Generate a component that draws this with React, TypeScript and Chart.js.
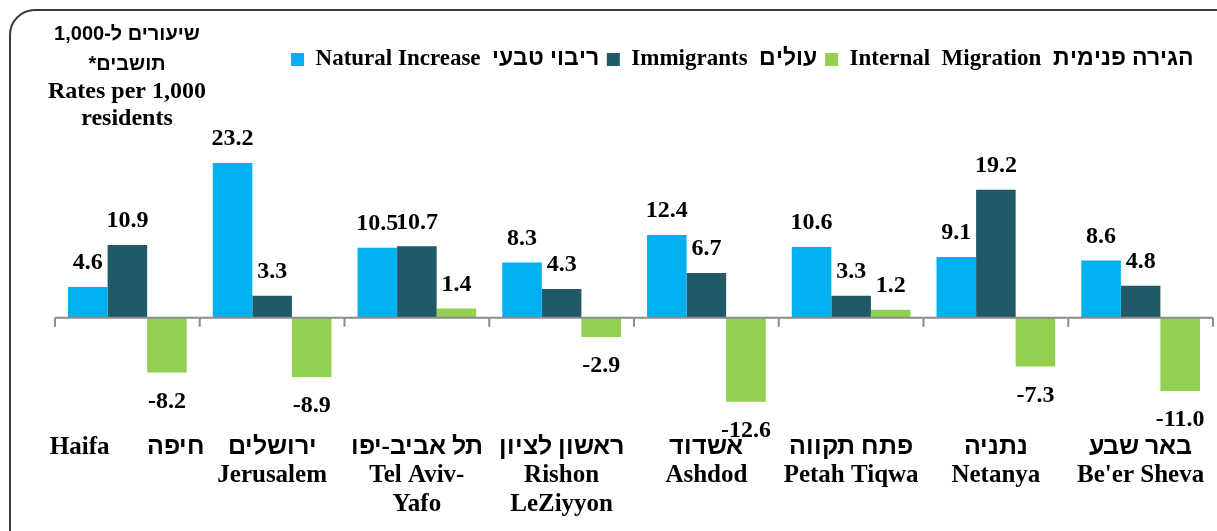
import React, { useEffect, useRef } from "react";
import { Chart, registerables } from "chart.js";

Chart.register(...registerables);

// ---- data ----
const categories: string[][] = [
  ["Haifa      חיפה"],
  ["ירושלים", "Jerusalem"],
  ["תל אביב-יפו", "Tel Aviv-", "Yafo"],
  ["ראשון לציון", "Rishon", "LeZiyyon"],
  ["אשדוד", "Ashdod"],
  ["פתח תקווה", "Petah Tiqwa"],
  ["נתניה", "Netanya"],
  ["באר שבע", "Be'er Sheva"],
];
const seriesNames = [
  "Natural Increase  ריבוי טבעי",
  "Immigrants  עולים",
  "Internal  Migration  הגירה פנימית  ",
];
const naturalIncrease = [4.6, 23.2, 10.5, 8.3, 12.4, 10.6, 9.1, 8.6];
const immigrants = [10.9, 3.3, 10.7, 4.3, 6.7, 3.3, 19.2, 4.8];
const internalMigration = [-8.2, -8.9, 1.4, -2.9, -12.6, 1.2, -7.3, -11.0];
const seriesColors = ["#00B0F0", "#215968", "#92D050"];
const yTitleHebrew = ["שיעורים ל-1,000", "תושבים*"];
const yTitleEnglish = ["Rates per 1,000", "residents"];

const FAMILY = "'HebSans', 'Liberation Serif', 'Times New Roman', serif";

const fontCss = `
@font-face { font-family: 'HebSans'; src: local('Liberation Sans Bold'), local('LiberationSans-Bold'); font-weight: 700; unicode-range: U+0590-05FF, U+FB1D-FB4F; }
@font-face { font-family: 'HebSans'; src: local('Liberation Sans'), local('LiberationSans-Regular'); font-weight: 400; unicode-range: U+0590-05FF, U+FB1D-FB4F; }
`;

const zeroLinePlugin = {
  id: "zeroLine",
  afterDatasetsDraw(chart: any) {
    const { ctx, chartArea, scales } = chart;
    const x = scales.x;
    const y = scales.y;
    const y0 = y.getPixelForValue(0);
    const step = x.getPixelForValue(1) - x.getPixelForValue(0);
    const first = x.getPixelForValue(0) - step / 2;
    ctx.save();
    ctx.strokeStyle = "#8C8C8C";
    ctx.lineWidth = 2;
    ctx.beginPath();
    ctx.moveTo(chartArea.left, y0);
    ctx.lineTo(chartArea.right, y0);
    for (let i = 0; i <= categories.length; i++) {
      const px = first + i * step;
      ctx.moveTo(px, y0);
      ctx.lineTo(px, y0 + 9);
    }
    ctx.stroke();
    ctx.restore();
  },
};

const dataLabelPlugin = {
  id: "dataLabels",
  afterDatasetsDraw(chart: any) {
    const { ctx } = chart;
    ctx.save();
    ctx.font = `bold 24px ${FAMILY}`;
    ctx.fillStyle = "#000";
    ctx.textAlign = "center";
    ctx.textBaseline = "middle";
    chart.data.datasets.forEach((ds: any, di: number) => {
      const meta = chart.getDatasetMeta(di);
      meta.data.forEach((el: any, j: number) => {
        const v = ds.data[j] as number;
        const txt = v.toFixed(1);
        const ty = v >= 0 ? el.y - 24 : el.y + 29;
        ctx.fillText(txt, el.x, ty);
      });
    });
    ctx.restore();
  },
};

const yTitlePlugin = {
  id: "yTitleBlock",
  afterDraw(chart: any) {
    const { ctx } = chart;
    ctx.save();
    ctx.fillStyle = "#000";
    ctx.textAlign = "center";
    ctx.textBaseline = "middle";
    ctx.direction = "rtl";
    ctx.font = "bold 20px 'Liberation Sans', Arial, sans-serif";
    ctx.fillText(yTitleHebrew[0], 127, 34);
    ctx.fillText(yTitleHebrew[1], 127, 64);
    ctx.direction = "ltr";
    ctx.font = "bold 24px 'Liberation Serif', 'Times New Roman', serif";
    ctx.fillText(yTitleEnglish[0], 127, 92);
    ctx.fillText(yTitleEnglish[1], 127, 119);
    ctx.restore();
  },
};

export default function App() {
  const ref = useRef<HTMLCanvasElement | null>(null);

  useEffect(() => {
    if (!ref.current) return;
    const chart = new Chart(ref.current, {
      type: "bar",
      data: {
        labels: categories,
        datasets: [
          { label: seriesNames[0], data: naturalIncrease, backgroundColor: seriesColors[0], borderWidth: 0 },
          { label: seriesNames[1], data: immigrants, backgroundColor: seriesColors[1], borderWidth: 0 },
          { label: seriesNames[2], data: internalMigration, backgroundColor: seriesColors[2], borderWidth: 0 },
        ],
      },
      options: {
        responsive: false,
        animation: false,
        events: [],
        layout: { padding: { left: 55, right: 4, top: 40, bottom: 5 } },
        datasets: { bar: { categoryPercentage: 0.82, barPercentage: 1 } },
        plugins: {
          legend: {
            position: "top",
            align: "end",
            labels: {
              boxWidth: 13,
              boxHeight: 13,
              padding: 8,
              color: "#000",
              font: { size: 23, weight: "bold", family: FAMILY },
            },
          },
          tooltip: { enabled: false },
        },
        scales: {
          x: {
            grid: { display: false, drawTicks: false },
            border: { display: false },
            ticks: {
              color: "#000",
              padding: 7,
              maxRotation: 0,
              autoSkip: false,
              font: { size: 25, weight: "bold", family: FAMILY, lineHeight: 1.15 },
            },
          },
          y: { display: false, min: -16.2, max: 35.5 },
        },
      } as any,
      plugins: [zeroLinePlugin, dataLabelPlugin, yTitlePlugin],
    });
    let alive = true;
    if ((document as any).fonts && (document as any).fonts.load) {
      (document as any).fonts
        .load(`bold 24px HebSans`, "אבג")
        .then(() => {
          if (alive) chart.update();
        })
        .catch(() => {});
    }
    return () => {
      alive = false;
      chart.destroy();
    };
  }, []);

  return (
    <div
      style={{
        position: "fixed",
        left: 0,
        top: 0,
        width: 1217,
        height: 531,
        overflow: "hidden",
        background: "#fff",
      }}
    >
      <style>{fontCss}</style>
      <div
        style={{
          position: "absolute",
          left: 9,
          top: 9,
          width: 1240,
          height: 560,
          border: "2px solid #3a3a3a",
          borderRadius: 26,
          boxSizing: "border-box",
        }}
      />
      <canvas
        ref={ref}
        width={1217}
        height={531}
        style={{ position: "absolute", left: 0, top: 0, width: 1217, height: 531 }}
      />
    </div>
  );
}
